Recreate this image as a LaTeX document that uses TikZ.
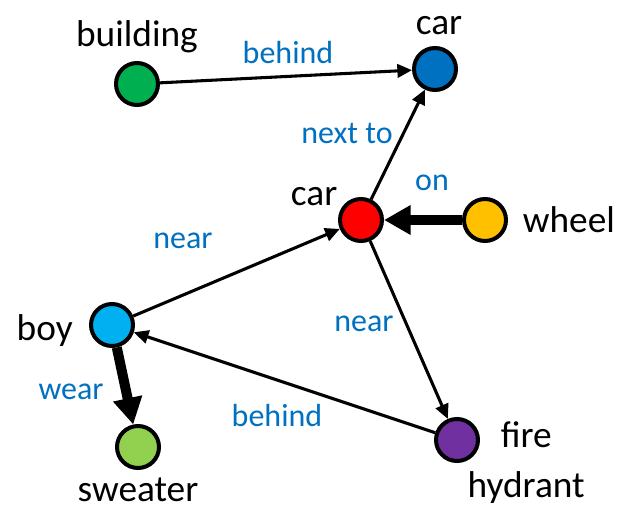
\documentclass[tikz,border=0pt]{standalone}
\usepackage{fontspec}
\setmainfont{Carlito}
\usetikzlibrary{arrows.meta}

\definecolor{bldgreen}{HTML}{00B050}
\definecolor{carblue}{HTML}{0070C0}
\definecolor{carred}{HTML}{FF0000}
\definecolor{wheelyellow}{HTML}{FFC000}
\definecolor{boycyan}{HTML}{00B0F0}
\definecolor{sweatergreen}{HTML}{92D050}
\definecolor{hydrantpurple}{HTML}{7030A0}
\definecolor{relblue}{HTML}{0070C0}

\begin{document}
\begin{tikzpicture}[x=0.75pt,y=-0.75pt,
		obj/.style={circle,draw,line width=3pt,minimum size=31.5pt,inner sep=0pt},
		rel/.style={text=relblue,inner sep=0pt,font=\fontsize{24}{28}\selectfont},
		link/.style={-{Triangle[length=11pt,width=10pt]},line width=2.3pt},
		strong/.style={-{Triangle[length=20pt,width=21pt]},line width=7.5pt},
		every label/.style={inner sep=0pt,font=\fontsize{28}{37}\selectfont}]
	\useasboundingbox (0,0) rectangle (623,506);

	\node[obj,fill=bldgreen,label={[label distance=6pt]90:building}]				(building)	at (137,84)		{};
	\node[obj,fill=carblue,label={[label distance=8.5pt,xshift=3pt]90:car}]		(car1)		at (435,69)		{};
	\node[obj,fill=carred,label={[anchor=south east,label distance=3pt]150:car}]	(car2)		at (361,220)	{};
	\node[obj,fill=wheelyellow,label={[label distance=11pt]0:wheel}]				(wheel)		at (485,220)	{};
	\node[obj,fill=boycyan,label={[label distance=12pt,yshift=-4.5pt]180:boy}]		(boy)		at (112,325)	{};
	\node[obj,fill=sweatergreen,label={[label distance=6pt]270:sweater}]			(sweater)	at (138,447)	{};
	\node[obj,fill=hydrantpurple,label={[align=center,xshift=-9.4pt,yshift=-17pt]0:fire\\hydrant}]	(hydrant)	at (457,440)	{};

	\node[rel]	(behind1)	at (288,53)		{behind};
	\node[rel]	(nextto)	at (347,133)	{next to};
	\node[rel]	(on)		at (432,183)	{on};
	\node[rel]	(near1)		at (183,241)	{near};
	\node[rel]	(wear)		at (71,392)		{wear};
	\node[rel]	(behind2)	at (277,415)	{behind};
	\node[rel]	(near2)		at (364,324)	{near};

	\draw[link] (building) -- (car1);
	\draw[link] (car2) -- (car1);
	\draw[strong] (wheel) -- (car2);
	\draw[link] (boy) -- (car2);
	\draw[link] (car2) -- (hydrant);
	\draw[link] (hydrant) -- (boy);
	\draw[strong] (boy) -- (sweater);
\end{tikzpicture}
\end{document}
